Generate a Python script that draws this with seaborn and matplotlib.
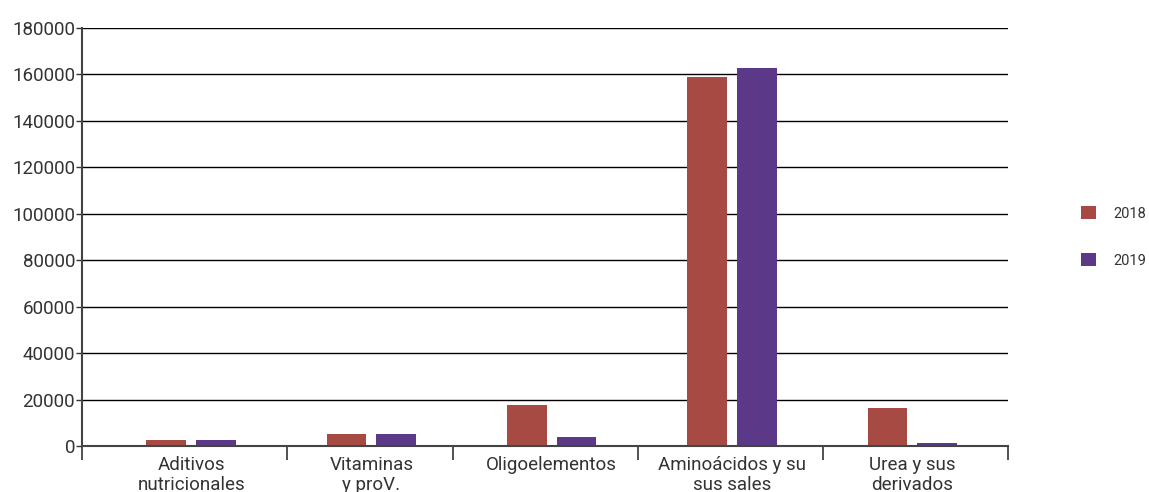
import numpy as np
import pandas as pd
import matplotlib
matplotlib.use("Agg")
import matplotlib.pyplot as plt
import seaborn as sns

# data
categorias = ["Aditivos\nnutricionales", "Vitaminas\ny proV.", "Oligoelementos",
              "Aminoácidos y su\nsus sales", "Urea y sus\nderivados"]
valores_2018 = [2600, 5000, 17700, 159000, 16200]
valores_2019 = [2500, 5000, 3800, 162800, 1300]
anios = ["2018", "2019"]
colores = ["#A84A44", "#5C3889"]

df = pd.DataFrame({
    "categoria": categorias * 2,
    "valor": valores_2018 + valores_2019,
    "anio": [anios[0]] * 5 + [anios[1]] * 5,
})

sns.set_style("white")
plt.rcParams["font.family"] = ["Roboto", "DejaVu Sans"]

fig = plt.figure(figsize=(11.49, 4.92), dpi=100)
ax = fig.add_axes([0.0714, 0.0935, 0.8057, 0.8496])

sns.barplot(data=df, x="categoria", y="valor", hue="anio", palette=colores,
            width=0.55, gap=0.2, ax=ax, edgecolor="none", saturation=1)

ax.set_ylim(0, 180000)
ax.set_xlim(-0.605, 4.53)
ax.set_yticks(np.arange(0, 180001, 20000))
ax.yaxis.grid(True, color="black", linewidth=1)
ax.set_axisbelow(True)
ax.tick_params(axis="y", labelsize=13.5, colors="#333333", length=4, width=1,
               left=True, direction="out", pad=1)
ax.tick_params(axis="x", labelsize=13.5, colors="#333333", length=0, pad=7)
for lab in ax.get_xticklabels():
    lab.set_linespacing(1.15)

# category separators as minor ticks
ax.set_xticks([-0.605, 0.532, 1.453, 2.479, 3.505, 4.53], minor=True)
ax.tick_params(axis="x", which="minor", length=10, width=1.2, color="#333333",
               direction="out", bottom=True)

for s in ["top", "right"]:
    ax.spines[s].set_visible(False)
ax.spines["left"].set_color("#444444")
ax.spines["left"].set_linewidth(1.5)
ax.spines["bottom"].set_color("#444444")
ax.spines["bottom"].set_linewidth(1.5)
ax.set_xlabel("")
ax.set_ylabel("")

leg = ax.legend(loc="center left", bbox_to_anchor=(1.065, 0.5), frameon=False,
                fontsize=10.5, labelspacing=2.2, handlelength=1.0, handleheight=1.0,
                handletextpad=1.2)
for t in leg.get_texts():
    t.set_color("#333333")

fig.savefig("out.png", dpi=100)
